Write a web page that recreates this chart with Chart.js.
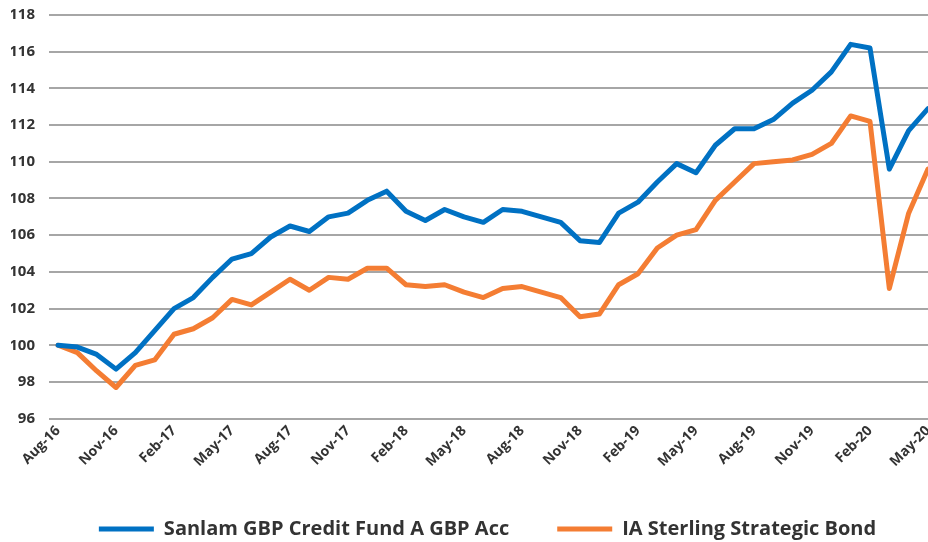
<!DOCTYPE html>
<html>
<head>
<meta charset="utf-8">
<script src="https://cdn.jsdelivr.net/npm/chart.js@4/dist/chart.umd.min.js"></script>
<style>
  html, body { margin: 0; padding: 0; background: #ffffff; overflow: hidden; }
  #wrap { position: relative; width: 928px; height: 542px; }
</style>
</head>
<body>
<div id="wrap"><canvas id="c"></canvas></div>
<script>
const months = ["Aug-16","Sep-16","Oct-16","Nov-16","Dec-16","Jan-17","Feb-17","Mar-17","Apr-17","May-17","Jun-17","Jul-17",
  "Aug-17","Sep-17","Oct-17","Nov-17","Dec-17","Jan-18","Feb-18","Mar-18","Apr-18","May-18","Jun-18","Jul-18",
  "Aug-18","Sep-18","Oct-18","Nov-18","Dec-18","Jan-19","Feb-19","Mar-19","Apr-19","May-19","Jun-19","Jul-19",
  "Aug-19","Sep-19","Oct-19","Nov-19","Dec-19","Jan-20","Feb-20","Mar-20","Apr-20","May-20"];

const sanlam = [100,99.9,99.5,98.7,99.6,100.8,102.0,102.6,103.7,104.7,105.0,105.9,
  106.5,106.2,107.0,107.2,107.9,108.4,107.3,106.8,107.4,107.0,106.7,107.4,
  107.3,107.0,106.7,105.7,105.6,107.2,107.8,108.9,109.9,109.4,110.9,111.8,
  111.8,112.3,113.2,113.9,114.9,116.4,116.2,109.6,111.7,112.9];

const iaStrategic = [100,99.6,98.6,97.7,98.9,99.2,100.6,100.9,101.5,102.5,102.2,102.9,
  103.6,103.0,103.7,103.6,104.2,104.2,103.3,103.2,103.3,102.9,102.6,103.1,
  103.2,102.9,102.6,101.55,101.7,103.3,103.9,105.3,106.0,106.3,107.9,108.9,
  109.9,110.0,110.1,110.4,111.0,112.5,112.2,103.1,107.2,109.6];

const tickLabels = ["Aug-16","Nov-16","Feb-17","May-17","Aug-17","Nov-17","Feb-18","May-18",
  "Aug-18","Nov-18","Feb-19","May-19","Aug-19","Nov-19","Feb-20","May-20"];

const seriesNames = ["Sanlam GBP Credit Fund A GBP Acc", "IA Sterling Strategic Bond"];

const toPoints = arr => arr.map((v, i) => ({ x: i, y: v }));
const tickIdx = tickLabels.map(l => months.indexOf(l));

const textColor = '#333333';
const fontFam = '"Open Sans", Roboto, sans-serif';

const legendShift = {
  id: 'legendShift',
  afterLayout(chart) {
    const lg = chart.legend;
    if (lg) { lg.left += 18; lg.right += 18; lg.top -= 3; lg.bottom -= 3; }
  }
};

new Chart(document.getElementById('c'), {
  type: 'line',
  data: {
    datasets: [
      { label: seriesNames[0], data: toPoints(sanlam), borderColor: '#0071C3', backgroundColor: '#0071C3',
        borderWidth: 5, pointRadius: 0, tension: 0, borderJoinStyle: 'round', borderCapStyle: 'round' },
      { label: seriesNames[1], data: toPoints(iaStrategic), borderColor: '#F47D33', backgroundColor: '#F47D33',
        borderWidth: 5, pointRadius: 0, tension: 0, borderJoinStyle: 'round', borderCapStyle: 'round' }
    ]
  },
  plugins: [legendShift],
  options: {
    responsive: true,
    maintainAspectRatio: false,
    animation: false,
    layout: { padding: { left: 11, top: 15, right: 0, bottom: -10 } },
    plugins: {
      tooltip: { enabled: false },
      legend: {
        position: 'bottom',
        labels: {
          usePointStyle: true,
          pointStyle: 'line',
          pointStyleWidth: 55,
          color: textColor,
          padding: 48,
          font: { family: fontFam, size: 20, weight: 'bold' }
        }
      }
    },
    scales: {
      x: {
        type: 'linear',
        min: -0.466,
        max: 45,
        grid: { display: false, drawTicks: false },
        border: { display: false },
        afterBuildTicks: s => { s.ticks = tickIdx.map(v => ({ value: v })); },
        afterFit: s => { s.paddingRight = 0; s.paddingLeft = 0; },
        ticks: {
          autoSkip: false,
          minRotation: 45,
          maxRotation: 45,
          padding: 4,
          color: textColor,
          font: { family: fontFam, size: 14, weight: 'bold' },
          callback: v => months[v]
        }
      },
      y: {
        min: 96,
        max: 118,
        grid: { color: '#A6A6A6', lineWidth: 2, drawTicks: false },
        border: { display: false },
        afterFit: s => { s.paddingTop = 0; s.paddingBottom = 0; s.width = 38; },
        ticks: {
          stepSize: 2,
          padding: 14,
          color: textColor,
          font: { family: fontFam, size: 15, weight: 'bold' }
        }
      }
    }
  }
});
</script>
</body>
</html>
